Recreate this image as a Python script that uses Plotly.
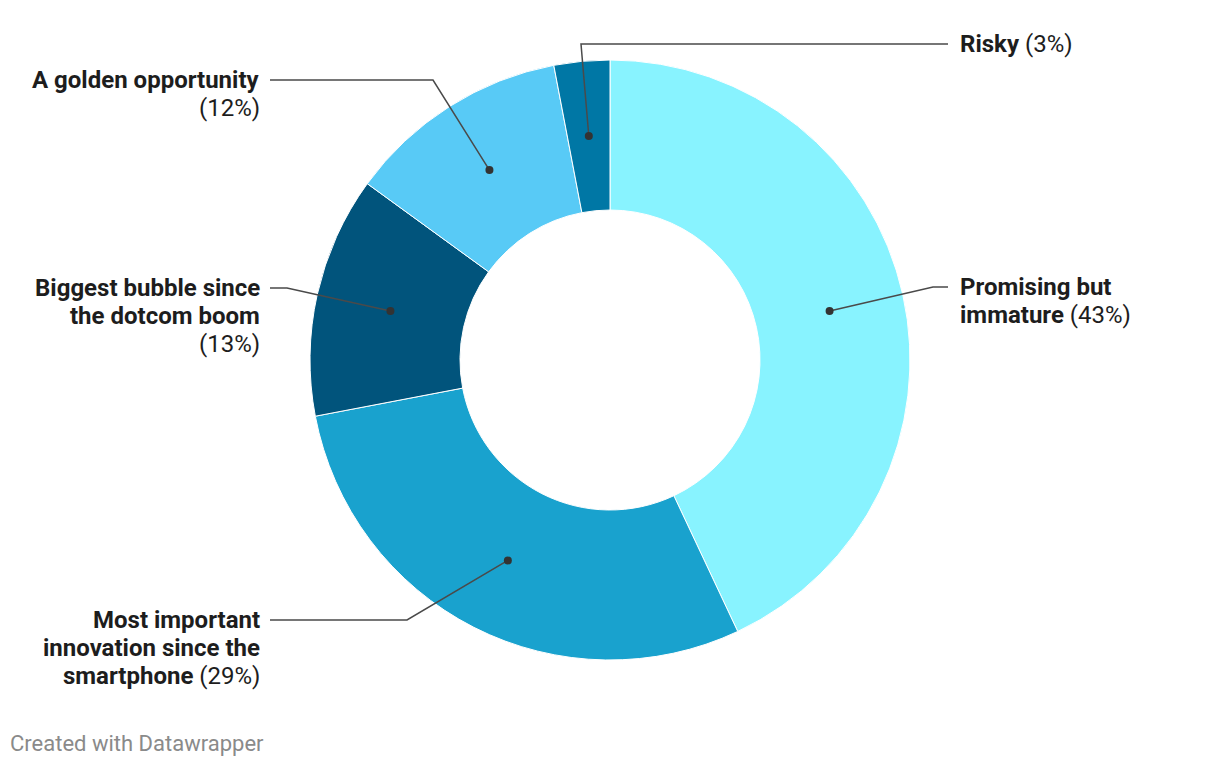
import numpy as np
import plotly.graph_objects as go

# ---- data ----
categories = ["Promising but immature", "Most important innovation since the smartphone",
              "Biggest bubble since the dotcom boom", "A golden opportunity", "Risky"]
values = [43, 29, 13, 12, 3]
colors = ["#88f3ff", "#19a2ce", "#01547c", "#58caf6", "#0077a5"]

# label layout (style): lines of text, side, first-line y, elbow
label_lines = [
    ["<b>Promising but</b>", "<b>immature</b> (43%)"],
    ["<b>Most important</b>", "<b>innovation since the</b>", "<b>smartphone</b> (29%)"],
    ["<b>Biggest bubble since</b>", "<b>the dotcom boom</b>", "(13%)"],
    ["<b>A golden opportunity</b>", "(12%)"],
    ["<b>Risky</b> (3%)"],
]
label_side = ["right", "left", "left", "left", "right"]
label_y = [287, 620, 288, 80, 44]
elbow_x = [933, 407, 287, 433, 581]

W, H = 1220, 766
cx, cy, R = 610, 360, 300
HOLE = 0.5


def px(x):
    return x / W


def py(y):
    return 1 - y / H


fig = go.Figure()
fig.add_trace(go.Pie(
    values=values, labels=categories, sort=False, direction="clockwise", rotation=0,
    hole=HOLE, marker=dict(colors=colors, line=dict(color="white", width=1)),
    textinfo="none", hoverinfo="skip", showlegend=False,
    domain=dict(x=[(cx - R) / W, (cx + R) / W], y=[(H - cy - R) / H, (H - cy + R) / H]),
))

total = sum(values)
cum = 0
rmid = R * (1 + HOLE) / 2
shapes = []
for i, v in enumerate(values):
    mid = (cum + v / 2) / total * 2 * np.pi
    cum += v
    dx = cx + rmid * np.sin(mid)
    dy = cy - rmid * np.cos(mid)
    ly = label_y[i]
    ex = elbow_x[i]
    endx = 948 if label_side[i] == "right" else 270
    path = f"M {px(dx)},{py(dy)} L {px(ex)},{py(ly)} L {px(endx)},{py(ly)}"
    shapes.append(dict(type="path", path=path, xref="paper", yref="paper", layer="above",
                       line=dict(color="#4a4a4a", width=1.5)))
    r = 4
    shapes.append(dict(type="circle", xref="paper", yref="paper", layer="above",
                       x0=px(dx - r), x1=px(dx + r), y0=py(dy + r), y1=py(dy - r),
                       fillcolor="#333333", line=dict(width=0)))
    for j, t in enumerate(label_lines[i]):
        if label_side[i] == "right":
            fig.add_annotation(x=px(958), y=py(ly + 28 * j), xref="paper", yref="paper", text=t,
                               showarrow=False, xanchor="left", yanchor="middle", align="left",
                               font=dict(family="Roboto", size=24, color="#1d1d1d"))
        else:
            fig.add_annotation(x=px(262), y=py(ly + 28 * j), xref="paper", yref="paper", text=t,
                               showarrow=False, xanchor="right", yanchor="middle", align="right",
                               font=dict(family="Roboto", size=24, color="#1d1d1d"))

fig.add_annotation(x=px(8), y=py(743), xref="paper", yref="paper", text="Created with Datawrapper",
                   showarrow=False, xanchor="left", yanchor="middle",
                   font=dict(family="Roboto", size=22, color="#8a8a8a"))

fig.update_layout(
    width=W, height=H, margin=dict(l=0, r=0, t=0, b=0),
    paper_bgcolor="white", plot_bgcolor="rgba(0,0,0,0)",
    shapes=shapes,
)
fig.write_html("out.html", config={"displayModeBar": False})
